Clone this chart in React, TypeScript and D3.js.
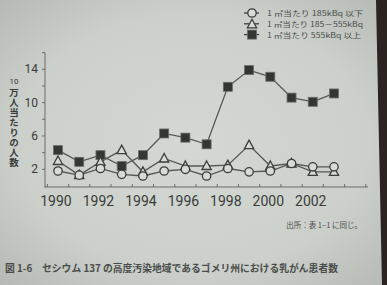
import React from "react";
import * as d3 from "d3";

const years = [1990, 1991, 1992, 1993, 1994, 1995, 1996, 1997, 1998, 1999, 2000, 2001, 2002, 2003];
const low = [1.8, 1.3, 2.1, 1.4, 1.2, 1.8, 2.0, 1.2, 2.1, 1.7, 1.8, 2.7, 2.3, 2.3];
const mid = [3.0, 1.3, 2.9, 4.3, 1.7, 3.3, 2.4, 2.4, 2.5, 4.9, 2.4, 2.7, 1.7, 1.7];
const high = [4.3, 2.9, 3.7, 2.4, 3.7, 6.3, 5.8, 5.0, 11.9, 13.9, 13.1, 10.6, 10.1, 11.1];
const yTickLabels = [2, 6, 10, 14];
const xTickLabels = [1990, 1992, 1994, 1996, 1998, 2000, 2002];
const legendLabels = ["1 ㎡当たり 185kBq 以下", "1 ㎡当たり 185－555kBq", "1 ㎡当たり 555kBq 以上"];
const caption = "図 1-6　セシウム 137 の高度汚染地域であるゴメリ州における乳がん患者数";
const source = "出所：表 1−1 に同じ。";
const yTitleTop = "10";
const yTitle = "万人当たりの人数";

export default function App() {
  const W = 387, H = 285;
  const x = d3.scaleLinear().domain([1990, 2003]).range([58, 334]);
  const y = d3.scaleLinear().domain([0, 16]).range([186, 52.6]);
  const line = d3.line<number>().x((_, i) => x(years[i])).y((v) => y(v));
  const ink = "#3c3e3c";
  const font = "Roboto, 'Noto Sans CJK JP', sans-serif";
  const jp = "'Noto Sans CJK JP', sans-serif";
  const minorY = d3.range(2, 17, 2);
  const xTicks = d3.range(1989.5, 2004.6, 1);
  const legendWidths = [96, 96, 94];

  const circle = (cx: number, cy: number, k: string) => (
    <circle key={k} cx={cx} cy={cy} r={4.2} fill="#d6dbd6" stroke={ink} strokeWidth={1.3} />
  );
  const tri = (cx: number, cy: number, k: string) => (
    <path key={k} d={`M${cx},${cy - 5}L${cx + 4.6},${cy + 3.5}L${cx - 4.6},${cy + 3.5}Z`} fill="#d6dbd6" stroke={ink} strokeWidth={1.3} />
  );
  const sq = (cx: number, cy: number, k: string) => (
    <rect key={k} x={cx - 4.5} y={cy - 4.5} width={9} height={9} fill="#343634" stroke="#6a6c6a" strokeWidth={0.8} />
  );

  return (
    <svg width={W} height={H} style={{ position: "absolute", left: 0, top: 0 }}>
      <defs>
        <radialGradient id="bg" cx="0.5" cy="0.5" r="0.75">
          <stop offset="0" stopColor="#d3d8d3" />
          <stop offset="0.6" stopColor="#cbd0cb" />
          <stop offset="1" stopColor="#b2b6b0" />
        </radialGradient>
      </defs>
      <rect width={W} height={H} fill="url(#bg)" />
      <path d={`M376,0L${W},0L${W},${H}L382,${H}Z`} fill="#2b2421" />

      {/* axes */}
      <line x1={45} x2={45} y1={y(16)} y2={187} stroke="#6a6c6a" strokeWidth={1} />
      <line x1={44} x2={368} y1={187} y2={187} stroke="#6a6c6a" strokeWidth={1} />
      {minorY.map((v) => (
        <line key={v} x1={42} x2={45} y1={y(v)} y2={y(v)} stroke="#6a6c6a" />
      ))}
      {xTicks.map((v) => (
        <line key={v} x1={x(v)} x2={x(v)} y1={184} y2={187} stroke="#6a6c6a" />
      ))}
      {yTickLabels.map((v) => (
        <text key={v} x={38} y={y(v) + 4} textAnchor="end" fontFamily={font} fontSize={12} fill="#3a3c3a">{v}</text>
      ))}
      {xTickLabels.map((v) => (
        <text key={v} x={x(v) - 2} y={206} textAnchor="middle" fontFamily={font} fontSize={14} fill="#3a3c3a">{v}</text>
      ))}
      <text x={14} y={84} textAnchor="middle" fontFamily={font} fontSize={8} fill="#3a3c3a">{yTitleTop}</text>
      <text x={14} y={88} fontFamily={jp} fontSize={9.5} fontWeight={700} fill="#3a3c3a"
        style={{ writingMode: "vertical-rl" }} letterSpacing={0.4}>{yTitle}</text>

      {/* series */}
      <path d={line(low) || ""} fill="none" stroke="#555755" strokeWidth={1.3} />
      <path d={line(mid) || ""} fill="none" stroke="#555755" strokeWidth={1.3} />
      <path d={line(high) || ""} fill="none" stroke="#555755" strokeWidth={1.3} />
      {high.map((v, i) => sq(x(years[i]), y(v), "h" + i))}
      {mid.map((v, i) => tri(x(years[i]), y(v), "m" + i))}
      {low.map((v, i) => circle(x(years[i]), y(v), "l" + i))}

      {/* legend */}
      {legendLabels.map((t, i) => {
        const ly = 13 + i * 10.8;
        return (
          <g key={i}>
            <line x1={244} x2={259} y1={ly} y2={ly} stroke={ink} strokeWidth={1.3} />
            {i === 0 ? circle(252, ly, "lc") : i === 1 ? tri(252, ly + 0.5, "lt") : sq(252, ly, "ls")}
            <text x={267} y={ly + 3} fontFamily={jp} fontSize={7.4} fill="#4a4c4a"
              textLength={legendWidths[i]} lengthAdjust="spacingAndGlyphs">{t}</text>
          </g>
        );
      })}

      <text x={362} y={228} textAnchor="end" fontFamily={jp} fontSize={7.5} fill="#4a4c4a">{source}</text>
      <text x={5} y={272} fontFamily={jp} fontSize={10} fontWeight={700} fill="#4a4c4a" textLength={333} lengthAdjust="spacingAndGlyphs">{caption}</text>
    </svg>
  );
}
